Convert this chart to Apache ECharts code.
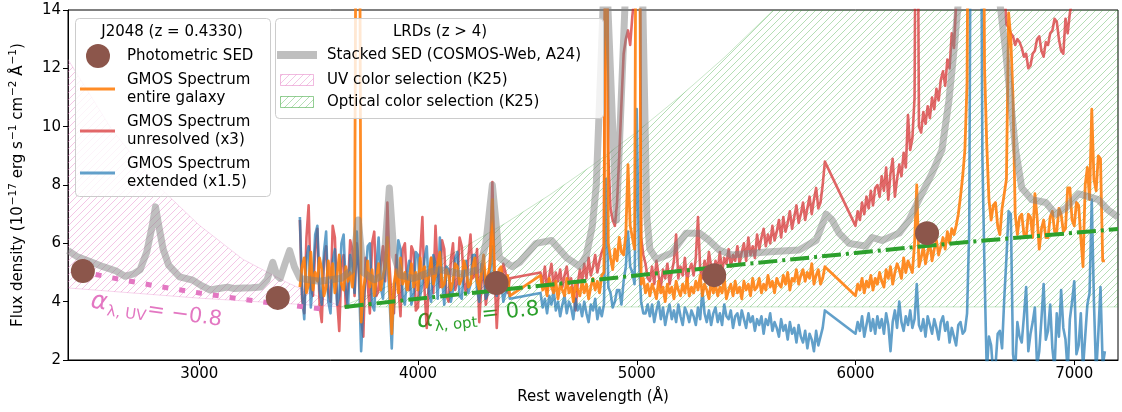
<!DOCTYPE html>
<html>
<head>
<meta charset="utf-8">
<title>J2048 SED</title>
<script src="https://cdn.jsdelivr.net/npm/echarts@6/dist/echarts.min.js"></script>
<style>
  html, body { margin: 0; padding: 0; background: #fff; }
  #chart { width: 1122px; height: 412px; }
</style>
</head>
<body>
<div id="chart"></div>
<script>
// GMOS spectra on a common 10 A grid (gaps at 4420-4560 and 5860-6000)
var wl = [
  3460, 3470, 3480, 3490, 3500, 3510, 3520, 3530, 3540, 3550,
  3560, 3570, 3580, 3590, 3600, 3610, 3620, 3630, 3640, 3650,
  3660, 3670, 3680, 3690, 3700, 3710, 3720, 3730, 3740, 3750,
  3760, 3770, 3780, 3790, 3800, 3810, 3820, 3830, 3840, 3850,
  3860, 3870, 3880, 3890, 3900, 3910, 3920, 3930, 3940, 3950,
  3960, 3970, 3980, 3990, 4000, 4010, 4020, 4030, 4040, 4050,
  4060, 4070, 4080, 4090, 4100, 4110, 4120, 4130, 4140, 4150,
  4160, 4170, 4180, 4190, 4200, 4210, 4220, 4230, 4240, 4250,
  4260, 4270, 4280, 4290, 4300, 4310, 4320, 4330, 4340, 4350,
  4360, 4370, 4380, 4390, 4400, 4410, 4420,
  4560, 4570, 4580, 4590, 4600, 4610, 4620, 4630, 4640, 4650,
  4660, 4670, 4680, 4690, 4700, 4710, 4720, 4730, 4740, 4750,
  4760, 4770, 4780, 4790, 4800, 4810, 4820, 4830, 4840, 4850,
  4860, 4870, 4880, 4890, 4900, 4910, 4920, 4930, 4940, 4950,
  4960, 4970, 4980, 4990, 5000, 5010, 5020, 5030, 5040, 5050,
  5060, 5070, 5080, 5090, 5100, 5110, 5120, 5130, 5140, 5150,
  5160, 5170, 5180, 5190, 5200, 5210, 5220, 5230, 5240, 5250,
  5260, 5270, 5280, 5290, 5300, 5310, 5320, 5330, 5340, 5350,
  5360, 5370, 5380, 5390, 5400, 5410, 5420, 5430, 5440, 5450,
  5460, 5470, 5480, 5490, 5500, 5510, 5520, 5530, 5540, 5550,
  5560, 5570, 5580, 5590, 5600, 5610, 5620, 5630, 5640, 5650,
  5660, 5670, 5680, 5690, 5700, 5710, 5720, 5730, 5740, 5750,
  5760, 5770, 5780, 5790, 5800, 5810, 5820, 5830, 5840, 5850,
  5860,
  6000, 6010, 6020, 6030, 6040, 6050, 6060, 6070, 6080, 6090,
  6100, 6110, 6120, 6130, 6140, 6150, 6160, 6170, 6180, 6190,
  6200, 6210, 6220, 6230, 6240, 6250, 6260, 6270, 6280, 6290,
  6300, 6310, 6320, 6330, 6340, 6350, 6360, 6370, 6380, 6390,
  6400, 6410, 6420, 6430, 6440, 6450, 6460, 6470, 6480, 6490,
  6500, 6510, 6520, 6530, 6540, 6550, 6560, 6570, 6580, 6590,
  6600, 6610, 6620, 6630, 6640, 6650, 6660, 6670, 6680, 6690,
  6700, 6710, 6720, 6730, 6740, 6750, 6760, 6770, 6780, 6790,
  6800, 6810, 6820, 6830, 6840, 6850, 6860, 6870, 6880, 6890,
  6900, 6910, 6920, 6930, 6940, 6950, 6960, 6970, 6980, 6990,
  7000, 7010, 7020, 7030, 7040, 7050, 7060, 7070, 7080, 7090,
  7100, 7110, 7120, 7130, 7140
];

var fluxEntire = [
  4.5, 5.2, 5.5, 4.3, 4.6, 5.7, 4.4, 5.0, 4.7, 5.5,
  5.1, 4.2, 4.5, 5.4, 4.8, 5.3, 4.3, 4.9, 5.6, 4.6,
  4.4, 5.2, 4.7, 5.0, 4.5, 5.3, 25, 25, 3.3, 4.4,
  4.9, 5.4, 4.5, 5.1, 4.2, 4.8, 5.3, 4.4, 4.9, 5.2,
  6.2, 4.5, 2.9, 4.6, 5.1, 4.3, 5.5, 4.6, 5.0, 4.4,
  4.8, 5.3, 4.5, 5.0, 4.4, 5.5, 4.8, 5.2, 4.5, 4.9,
  5.5, 4.6, 4.9, 5.3, 5.7, 4.5, 4.6, 5.1, 4.9, 4.4,
  4.7, 5.3, 5.2, 4.6, 4.8, 5.4, 5.1, 4.5, 4.6, 5.2,
  5.5, 4.7, 4.4, 5.0, 5.6, 4.6, 4.9, 5.3, 7.5, 4.8,
  4.6, 5.1, 5.2, 4.4, 4.5, 4.9, 4.2,
  4.9, 4.4, 4.6, 4.2, 4.8, 4.5, 4.3, 4.7, 4.1, 4.6,
  4.4, 4.2, 4.8, 4.3, 4.5, 4.0, 4.6, 4.4, 4.2, 4.7,
  4.3, 4.6, 4.1, 4.5, 4.8, 4.4, 4.7, 4.3, 4.9, 5.0,
  25, 6.0, 5.5, 5.1, 5.8, 5.4, 6.2, 5.7, 5.6, 6.3,
  8.7, 6.6, 6.2, 5.8, 25, 25, 4.6, 4.8, 4.3, 4.6,
  4.2, 4.6, 4.4, 4.1, 4.7, 4.3, 4.5, 4.0, 4.6, 4.3,
  4.5, 4.1, 4.7, 4.4, 4.2, 4.6, 4.3, 4.8, 4.2, 4.5,
  4.3, 4.7, 4.4, 4.9, 4.2, 4.6, 4.4, 4.1, 4.7, 4.3,
  4.6, 4.2, 4.5, 4.3, 4.8, 4.1, 4.4, 4.6, 4.2, 4.7,
  4.3, 4.5, 4.1, 4.7, 4.4, 4.6, 4.2, 4.8, 4.4, 4.5,
  4.8, 4.3, 4.6, 4.4, 4.9, 4.5, 4.7, 4.3, 4.8, 4.6,
  4.5, 4.9, 4.6, 5.0, 4.4, 4.8, 4.7, 5.1, 4.6, 4.9,
  5.1, 4.7, 5.0, 4.8, 5.3, 4.6, 4.9, 5.1, 4.6, 4.8,
  5.2,
  4.2, 4.6, 4.4, 4.8, 4.3, 4.7, 4.5, 4.9, 4.4, 4.8,
  4.6, 5.0, 4.7, 4.5, 5.1, 4.8, 5.2, 4.6, 5.0, 5.3,
  5.1, 4.8, 5.5, 5.0, 5.4, 5.2, 5.0, 6.0, 8.0, 5.2,
  5.5, 5.9, 5.3, 5.7, 6.0, 5.4, 5.8, 6.1, 5.6, 5.9,
  6.2, 5.8, 6.4, 6.0, 6.5, 6.3, 6.6, 7.0, 7.6, 8.3,
  9.2, 11.5, 25, 25, 25, 25, 25, 25, 25, 12.0,
  9.4, 7.5, 6.8, 7.3, 7.4, 6.6, 6.3, 7.2, 7.7, 8.2,
  13.9, 13.0, 11.0, 7.0, 6.3, 6.9, 7.0, 6.3, 6.2, 7.0,
  6.9, 6.2, 7.7, 6.9, 5.8, 6.5, 6.8, 6.2, 6.2, 6.9,
  7.1, 6.4, 6.4, 7.2, 7.0, 6.4, 6.5, 7.9, 7.9, 6.8,
  6.6, 7.4, 7.3, 6.2, 5.2, 8.0, 8.6, 7.5, 10.6, 8.2,
  7.8, 9.0, 8.9, 5.4, 5.4
];

var fluxUnresolved = [
  6.8, 4.1, 3.6, 6.2, 7.3, 4.5, 4.2, 5.8, 6.5, 3.9,
  3.3, 5.4, 5.9, 4.3, 4.0, 6.6, 6.2, 4.1, 3.0, 5.2,
  5.6, 3.8, 4.5, 6.1, 5.8, 4.2, 6.0, 5.1, 3.4, 2.8,
  5.5, 4.6, 3.6, 6.0, 6.4, 4.2, 4.4, 5.3, 5.9, 4.7,
  7.4, 5.2, 4.0, 3.6, 5.6, 4.6, 3.5, 5.8, 6.0, 4.5,
  4.4, 5.9, 5.7, 3.7, 3.8, 5.6, 6.9, 4.4, 3.1, 4.8,
  5.5, 4.3, 6.6, 5.0, 4.5, 6.1, 5.8, 4.2, 4.0, 5.4,
  6.0, 4.4, 4.7, 6.2, 5.9, 4.6, 4.3, 5.5, 6.3, 4.8,
  4.9, 5.8, 3.3, 4.6, 5.2, 3.9, 4.4, 5.6, 8.1, 4.9,
  3.1, 4.6, 4.4, 5.3, 5.0, 4.3, 4.8,
  5.0, 4.6, 5.2, 4.4, 4.9, 5.3, 4.5, 5.0, 4.7, 5.1,
  4.5, 4.9, 5.2, 4.6, 4.8, 4.3, 3.7, 4.6, 5.1, 4.7,
  5.3, 4.8, 5.5, 4.9, 5.2, 5.6, 5.0, 5.4, 5.7, 5.9,
  25, 9.0, 7.2, 6.8, 6.6, 7.4, 9.0, 10.8, 12.5, 13.0,
  13.3, 12.8, 13.8, 14.5, 25, 25, 6.2, 5.6, 5.3, 4.8,
  4.7, 5.2, 4.6, 5.4, 4.9, 4.5, 5.1, 4.8, 5.3, 4.6,
  5.0, 5.4, 6.3, 4.8, 5.2, 4.9, 5.5, 4.7, 5.1, 5.3,
  4.9, 5.5, 6.9, 5.1, 4.8, 5.4, 5.0, 5.7, 5.2, 4.9,
  5.4, 5.1, 5.7, 5.0, 5.5, 5.3, 5.8, 5.2, 5.6, 5.4,
  5.9, 5.3, 5.7, 6.0, 5.4, 6.2, 5.6, 5.9, 5.5, 6.3,
  5.8, 6.2, 6.5, 5.9, 6.3, 6.0, 6.6, 6.1, 6.4, 6.8,
  6.2, 6.9, 6.4, 6.7, 7.1, 6.5, 6.9, 7.3, 6.7, 7.0,
  7.4, 6.8, 7.2, 7.6, 7.0, 7.5, 7.9, 7.2, 7.4, 8.0,
  8.8,
  6.6, 7.1, 6.8, 7.4, 7.0, 7.6, 7.2, 7.8, 7.3, 7.9,
  8.0, 7.6, 8.3, 7.8, 8.6, 7.5, 8.4, 8.9, 7.6, 8.2,
  8.7, 8.3, 9.1, 8.6, 10.4, 9.2, 9.6, 11.0, 25, 10.0,
  9.8, 10.5, 10.1, 10.7, 10.3, 11.0, 10.6, 11.3, 10.9, 11.6,
  11.9, 11.4, 12.3, 12.0, 13.2, 12.7, 14.2, 15, 16, 17,
  17, 18, 18, 18, 18, 18, 18, 18, 18, 18,
  18, 18, 17, 17, 16, 16, 15, 15, 14.8, 13.5,
  13.4, 13.2, 13.1, 12.8, 13.0, 12.9, 12.7, 12.4, 12.5, 12.0,
  12.1, 12.5, 12.6, 13.0, 13.1, 12.6, 12.4, 12.9, 12.8, 13.2,
  13.3, 13.7, 13.6, 13.0, 12.6, 12.5, 13.7, 13.2, 13.9, 14.3,
  15, 16, 16, 16, 16, 16, 16, 17, 17, 17,
  17, 17, 17, 17, 17
];

var fluxExtended = [
  6.9, 4.3, 3.4, 5.5, 5.9, 3.8, 4.8, 6.3, 6.6, 4.4,
  3.9, 5.7, 6.4, 4.0, 3.6, 5.4, 5.8, 3.9, 4.2, 6.0,
  6.3, 4.4, 3.8, 5.6, 5.2, 4.3, 6.4, 4.9, 2.3, 3.9,
  4.8, 5.9, 6.0, 3.9, 3.7, 5.2, 6.2, 4.5, 4.1, 5.3,
  5.6, 4.1, 2.4, 4.4, 4.9, 6.1, 5.8, 4.2, 3.9, 5.0,
  5.4, 3.9, 4.3, 5.7, 5.6, 4.2, 4.6, 5.5, 5.9, 4.3,
  4.0, 5.6, 5.3, 4.1, 6.2, 4.8, 3.9, 5.2, 5.1, 4.0,
  4.4, 5.5, 5.7, 4.2, 4.1, 5.1, 5.4, 4.3, 4.6, 5.6,
  5.6, 4.4, 4.0, 5.3, 5.2, 4.1, 4.3, 5.0, 5.9, 4.5,
  4.2, 4.9, 4.7, 4.0, 4.3, 4.6, 4.1,
  4.3, 3.8, 4.1, 3.6, 4.2, 3.9, 4.4, 3.7, 4.0, 3.5,
  3.9, 4.2, 3.6, 4.0, 3.8, 3.4, 4.1, 3.7, 3.9, 3.5,
  4.0, 3.6, 3.3, 3.9, 3.7, 4.1, 3.4, 3.8, 3.5, 3.9,
  8.2, 4.5, 4.3, 3.8, 4.0, 4.4, 4.4, 3.9, 4.7, 5.2,
  6.4, 5.2, 5.0, 4.6, 10.6, 5.5, 4.0, 3.6, 3.6, 3.9,
  3.5, 3.9, 3.3, 3.7, 4.0, 3.4, 3.8, 3.2, 3.6, 3.9,
  3.4, 3.7, 3.3, 3.9, 3.5, 3.2, 3.8, 3.6, 3.3, 3.7,
  3.5, 3.2, 3.8, 3.4, 4.4, 3.6, 3.3, 3.7, 3.2, 3.6,
  3.8, 3.3, 3.6, 3.2, 3.9, 3.5, 3.4, 3.7, 3.1, 3.5,
  3.6, 3.2, 3.7, 3.4, 3.1, 3.6, 3.3, 3.5, 3.0, 3.4,
  3.2, 3.5, 2.9, 3.4, 3.2, 3.6, 3.0, 3.3, 3.1, 2.8,
  3.4, 3.0, 3.2, 2.7, 3.3, 2.9, 3.1, 2.6, 3.2, 2.8,
  2.6, 3.0, 2.4, 2.9, 2.7, 2.3, 3.0, 2.5, 2.8, 3.1,
  3.7,
  2.9, 3.3, 3.0, 3.5, 2.8, 3.2, 3.6, 3.0, 3.4, 2.9,
  3.5, 3.1, 3.4, 2.9, 3.6, 3.2, 2.3, 3.3, 3.7, 3.1,
  4.0, 3.3, 3.0, 3.5, 3.2, 3.7, 3.1, 3.4, 4.6, 3.2,
  3.0, 3.4, 2.8, 3.5, 3.2, 2.9, 3.4, 3.1, 2.7, 3.3,
  3.5, 3.0, 3.3, 2.6, 3.1, 2.8, 2.5, 3.2, 3.3, 2.9,
  3.0, 3.6, 6.5, 25, 25, 25, 25, 25, 9.0, 5.0,
  1.6, 2.8, 2.5, 1.5, 1.8, 2.9, 3.0, 2.4, 4.1, 5.5,
  7.1, 7.0, 2.2, 1.6, 3.3, 2.8, 2.6, 3.5, 4.5, 2.3,
  2.9, 3.3, 3.8, 1.8, 2.3, 3.4, 4.6, 2.7, 3.0, 3.9,
  2.4, 1.7, 3.6, 2.8, 4.4, 3.1, 2.7, 1.6, 3.4, 4.0,
  4.7, 2.2, 2.5, 3.6, 1.7, 2.8, 3.9, 4.3, 7.5, 4.0,
  1.5, 2.9, 4.5, 1.8, 2.3
];

// LRD stacked SED (COSMOS-Web, A24)
var sedWl = [
  2400, 2440, 2500, 2560, 2620, 2660, 2700, 2730, 2760, 2785,
  2800, 2815, 2835, 2860, 2910, 2970, 3010, 3050, 3090, 3130,
  3160, 3200, 3240, 3280, 3310, 3336, 3355, 3370, 3392, 3413,
  3435, 3460, 3500, 3550, 3600, 3650, 3700, 3727, 3750, 3800,
  3840, 3869, 3890, 3920, 3980, 4050, 4100, 4200, 4280, 4310,
  4340, 4372, 4430, 4465, 4540, 4610, 4680, 4740, 4770, 4797,
  4815, 4830, 4848, 4858, 4866, 4907, 4948, 4960, 5007, 5027,
  5046, 5060, 5090, 5160, 5226, 5286, 5331, 5377, 5436, 5592,
  5742, 5820, 5866, 5893, 5925, 5971, 6048, 6076, 6121, 6200,
  6245, 6290, 6350, 6395, 6427, 6450, 6473, 6520, 6563, 6610,
  6656, 6686, 6713, 6732, 6760, 6805, 6870, 6915, 6960, 7020,
  7065, 7110, 7155, 7200
];
var sedFlux = [
  5.75, 5.55, 5.38, 5.2, 5.05, 4.87, 4.95, 5.1, 5.7, 6.6,
  7.25, 6.6, 5.8, 5.25, 4.85, 4.74, 4.55, 4.4, 4.45, 4.5,
  4.45, 4.47, 4.48, 4.5, 4.75, 5.35, 4.9, 4.8, 5.3, 5.75,
  5.2, 4.8, 4.75, 4.7, 4.75, 4.8, 5.1, 6.8, 5.0, 4.75,
  4.9, 7.9, 5.6, 4.9, 4.8, 5.0, 5.1, 4.95, 5.1, 6.0,
  8.0, 5.5, 5.2, 5.35, 6.0, 6.1, 5.5, 5.2, 5.6, 6.6,
  8.0, 10.9, 14.5, 17, 14.5, 6.8, 14.5, 17, 17, 14.5,
  6.9, 5.8, 5.45, 5.67, 6.35, 6.35, 6.1, 5.77, 5.6, 5.7,
  5.77, 6.1, 7.0, 6.8, 6.35, 6.0, 5.9, 6.2, 6.1, 6.35,
  6.8, 7.5, 8.4, 9.2, 10.9, 12.6, 14.5, 17, 18, 17,
  14.5, 12.6, 10.6, 9.2, 7.9, 7.5, 7.4, 7.0, 7.2, 7.7,
  7.6, 7.5, 7.14, 6.9
];

// J2048 photometric SED
var photWl = [2468, 3359, 4359, 5354, 6327];
var photFlux = [5.05, 4.13, 4.64, 4.91, 6.35];

// power-law slopes drawn through the photometry
var uvWl = [2450, 2600, 2800, 3000, 3200, 3400, 3600];
var uvFlux = [5.05, 4.82, 4.54, 4.30, 4.08, 3.89, 3.71];
var optWl = [3665, 4000, 4500, 5000, 5500, 6000, 6500, 7200];
var optFlux = [3.82, 4.10, 4.50, 4.90, 5.29, 5.67, 6.04, 6.49];

// K25 colour-selection wedges (upper edge left to right, lower edge back)
var uvBoxTop = [[2400, 12.3], [2600, 9.9], [2800, 8.05], [3000, 6.62], [3200, 5.45], [3400, 4.66], [3650, 3.82]];
var uvBoxBottom = [[3650, 3.82], [3000, 4.12], [2400, 4.47]];
var optBoxTop = [[3650, 3.82], [3800, 4.31], [4000, 5.03], [4200, 5.82], [4400, 6.69], [4600, 7.65],
  [4800, 8.69], [5000, 9.82], [5200, 11.05], [5400, 12.37], [5625, 14], [7200, 14]];
var optBoxBottom = [[7200, 3.82], [3650, 3.82]];

var xTicks = [3000, 4000, 5000, 6000, 7000];

var FONT = '"DejaVu Sans", sans-serif';

function zip(xs, ys) {
  return xs.map(function (x, i) { return [x, ys[i]]; });
}

function makeHatch(color) {
  var s = 7;
  var c = document.createElement('canvas');
  c.width = s;
  c.height = s;
  var ctx = c.getContext('2d');
  ctx.strokeStyle = color;
  ctx.lineWidth = 1;
  ctx.beginPath();
  ctx.moveTo(0, s); ctx.lineTo(s, 0);
  ctx.moveTo(-s, s); ctx.lineTo(s, -s);
  ctx.moveTo(0, 2 * s); ctx.lineTo(2 * s, 0);
  ctx.stroke();
  return c;
}

var pinkHatch = makeHatch('rgba(227,119,194,0.42)');
var greenHatch = makeHatch('rgba(44,160,44,0.35)');

function wedge(top, bottom, hatch, edge) {
  return {
    type: 'custom',
    silent: true,
    clip: true,
    z: 1,
    data: [top[0]],
    renderItem: function (params, api) {
      var pts = top.concat(bottom).map(function (p) { return api.coord(p); });
      return {
        type: 'polygon',
        shape: { points: pts },
        style: { fill: { image: hatch, repeat: 'repeat' }, stroke: edge, lineWidth: 1 }
      };
    }
  };
}

function spectrum(ys, color, width, z) {
  return {
    type: 'line',
    data: zip(wl, ys),
    showSymbol: false,
    symbol: 'none',
    silent: true,
    z: z,
    lineStyle: { color: color, width: width, join: 'round' }
  };
}

function txt(x, y, text, align) {
  return {
    type: 'text', x: x, y: y, z: 101,
    style: {
      text: text, font: '15px ' + FONT, fill: '#000',
      align: align || 'left', verticalAlign: 'middle',
      textAlign: align || 'left', textVerticalAlign: 'middle'
    }
  };
}

var chart = echarts.init(document.getElementById('chart'));

var legendEls = [
  // left box: J2048
  { type: 'rect', z: 100, shape: { x: 75.5, y: 18.5, width: 195, height: 178, r: 4 },
    style: { fill: 'rgba(255,255,255,0.8)', stroke: '#cccccc', lineWidth: 1 } },
  txt(172, 32, 'J2048 (z = 0.4330)', 'center'),
  { type: 'circle', z: 101, shape: { cx: 98, cy: 56, r: 12 }, style: { fill: '#8c564b' } },
  txt(127, 56, 'Photometric SED'),
  { type: 'line', z: 101, shape: { x1: 80, y1: 89, x2: 115, y2: 89 }, style: { stroke: 'rgba(255,127,14,0.9)', lineWidth: 2.8 } },
  txt(127, 80, 'GMOS Spectrum'),
  txt(127, 98, 'entire galaxy'),
  { type: 'line', z: 101, shape: { x1: 80, y1: 131, x2: 115, y2: 131 }, style: { stroke: 'rgba(214,39,40,0.7)', lineWidth: 2.8 } },
  txt(127, 122, 'GMOS Spectrum'),
  txt(127, 140, 'unresolved (x3)'),
  { type: 'line', z: 101, shape: { x1: 80, y1: 173, x2: 115, y2: 173 }, style: { stroke: 'rgba(31,119,180,0.7)', lineWidth: 2.8 } },
  txt(127, 164, 'GMOS Spectrum'),
  txt(127, 182, 'extended (x1.5)'),

  // right box: LRDs
  { type: 'rect', z: 100, shape: { x: 275.5, y: 18.5, width: 328, height: 100, r: 4 },
    style: { fill: 'rgba(255,255,255,0.8)', stroke: '#cccccc', lineWidth: 1 } },
  txt(440, 32, 'LRDs (z > 4)', 'center'),
  { type: 'line', z: 101, shape: { x1: 277, y1: 55, x2: 317, y2: 55 }, style: { stroke: 'rgba(128,128,128,0.5)', lineWidth: 8 } },
  txt(327, 55, 'Stacked SED (COSMOS-Web, A24)'),
  { type: 'rect', z: 101, shape: { x: 280.5, y: 74.5, width: 33, height: 11 },
    style: { fill: { image: pinkHatch, repeat: 'repeat' }, stroke: 'rgba(227,119,194,0.5)', lineWidth: 1 } },
  txt(327, 80, 'UV color selection (K25)'),
  { type: 'rect', z: 101, shape: { x: 280.5, y: 96.5, width: 33, height: 11 },
    style: { fill: { image: greenHatch, repeat: 'repeat' }, stroke: 'rgba(44,160,44,0.5)', lineWidth: 1 } },
  txt(327, 102, 'Optical color selection (K25)')
];

function slopeText(x, y, rot, color, sub, value, valueX) {
  var mid = { verticalAlign: 'middle', textVerticalAlign: 'middle', fill: color };
  return { type: 'group', x: x, y: y, rotation: rot, z: 90, children: [
    { type: 'text', x: 0, y: 0, style: Object.assign({ text: 'α', font: 'italic 25px ' + FONT }, mid) },
    { type: 'text', x: 17, y: 8, style: Object.assign({ text: sub, font: '15px ' + FONT }, mid) },
    { type: 'text', x: valueX, y: 1, style: Object.assign({ text: value, font: '21px ' + FONT }, mid) }
  ] };
}

var slopeEls = [
  slopeText(91, 301, -0.14, '#e377c2', 'λ, UV', '= −0.8', 57),
  slopeText(417, 321, 0.105, '#2ca02c', 'λ, opt', '= 0.8', 65)
];

var option = {
  animation: false,
  textStyle: { fontFamily: FONT },
  grid: { left: 68, right: 4, top: 10, bottom: 52, show: true, borderColor: '#000', borderWidth: 1 },
  xAxis: {
    type: 'value', min: 2400, max: 7200,
    name: 'Rest wavelength (Å)', nameLocation: 'middle', nameGap: 30,
    nameTextStyle: { fontFamily: FONT, fontSize: 15, color: '#000' },
    axisLine: { show: true, onZero: false, lineStyle: { color: '#000', width: 1 } },
    axisTick: { show: true, length: 5, customValues: xTicks, lineStyle: { color: '#000' } },
    axisLabel: { customValues: xTicks, formatter: function (v) { return String(v); },
      fontFamily: FONT, fontSize: 15, color: '#000', margin: 7 },
    splitLine: { show: false }
  },
  yAxis: {
    type: 'value', min: 2, max: 14, interval: 2,
    name: 'Flux density (10{s|−17} erg s{s|−1} cm{s|−2} Å{s|−1})', nameLocation: 'middle', nameGap: 40,
    nameTextStyle: { fontFamily: FONT, fontSize: 15, color: '#000', lineHeight: 20,
      rich: { s: { fontFamily: FONT, fontSize: 10.5, color: '#000', verticalAlign: 'top', lineHeight: 20, padding: [0, 0, 0, 1] } } },
    axisLine: { show: true, onZero: false, lineStyle: { color: '#000', width: 1 } },
    axisTick: { show: true, length: 5, lineStyle: { color: '#000' } },
    axisLabel: { fontFamily: FONT, fontSize: 15, color: '#000', margin: 7 },
    splitLine: { show: false }
  },
  series: [
    wedge(uvBoxTop, uvBoxBottom, pinkHatch, 'rgba(227,119,194,0.3)'),
    wedge(optBoxTop, optBoxBottom, greenHatch, 'rgba(44,160,44,0.25)'),
    spectrum(fluxUnresolved, 'rgba(214,39,40,0.7)', 2.6, 2),
    spectrum(fluxExtended, 'rgba(31,119,180,0.7)', 2.6, 3),
    spectrum(fluxEntire, 'rgba(255,127,14,0.9)', 2.8, 4),
    {
      type: 'line', data: zip(sedWl, sedFlux), showSymbol: false, symbol: 'none', silent: true, z: 5,
      lineStyle: { color: 'rgba(128,128,128,0.5)', width: 7, join: 'round' }
    },
    {
      type: 'line', data: zip(uvWl, uvFlux), showSymbol: false, symbol: 'none', silent: true, z: 6,
      lineStyle: { color: '#e377c2', width: 5, type: [6, 11], cap: 'butt' }
    },
    {
      type: 'line', data: zip(optWl, optFlux), showSymbol: false, symbol: 'none', silent: true, z: 6,
      lineStyle: { color: '#2ca02c', width: 4, type: [19, 5, 3, 5], cap: 'butt' }
    },
    {
      type: 'scatter', data: zip(photWl, photFlux), symbol: 'circle', symbolSize: 24, silent: true, z: 7,
      itemStyle: { color: '#8c564b', opacity: 1 }
    }
  ],
  graphic: legendEls.concat(slopeEls)
};

chart.setOption(option);
</script>
</body>
</html>
